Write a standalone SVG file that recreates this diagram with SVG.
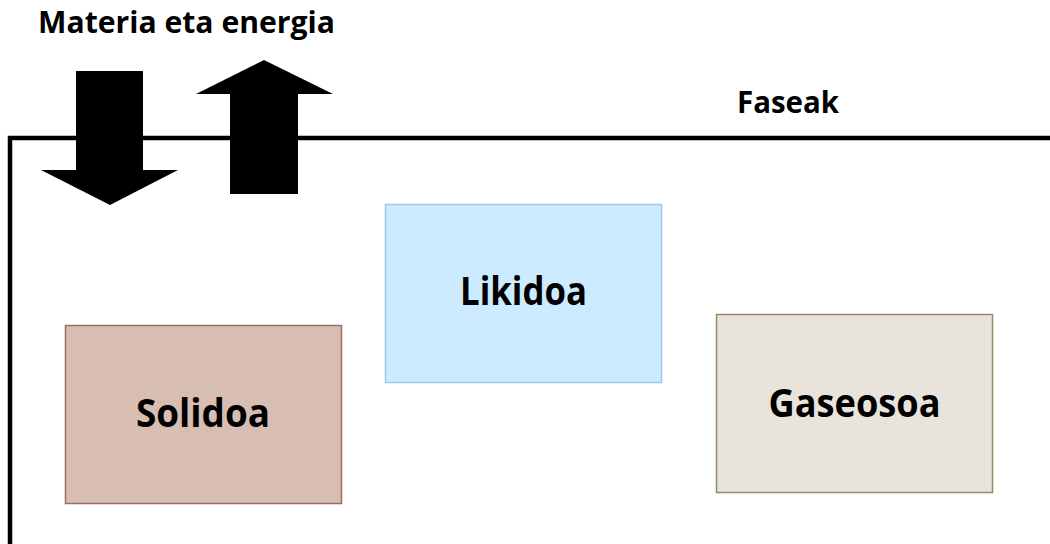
<svg xmlns="http://www.w3.org/2000/svg" width="1050" height="544" viewBox="0 0 1050 544">
  <style>
    .lbl { font-family: "Open Sans", "Liberation Sans", Arial, sans-serif; font-weight: bold; fill: #000; }
    .big { font-size: 40px; }
    .small { font-size: 30px; }
    .box { stroke-width: 1.5; }
  </style>
  <rect width="1050" height="544" fill="#ffffff"/>

  <!-- Heading -->
  <text class="lbl small" x="38" y="33" textLength="297" lengthAdjust="spacingAndGlyphs">Materia eta energia</text>

  <!-- Open system boundary -->
  <g id="boundary">
    <polyline points="10,544 10,138 1050,138" fill="none" stroke="#000" stroke-width="4.5"/>
    <text class="lbl small" x="737" y="113" textLength="102" lengthAdjust="spacingAndGlyphs">Faseak</text>
  </g>

  <!-- Exchange arrows -->
  <g id="connectors">
    <polygon id="arrow-in" points="76,71 143,71 143,170 178,170 110,205 41,170 76,170" fill="#000"/>
    <polygon id="arrow-out" points="230,194 298,194 298,94 333,94 264,60 196,94 230,94" fill="#000"/>
  </g>

  <!-- Phases -->
  <g id="likidoa">
    <rect class="box" x="385.5" y="204.5" width="276" height="178" fill="#CCEBFE" stroke="#9DC9EC"/>
    <text class="lbl big" x="523.5" y="305" text-anchor="middle" textLength="127" lengthAdjust="spacingAndGlyphs">Likidoa</text>
  </g>
  <g id="solidoa">
    <rect class="box" x="65.5" y="325.5" width="276" height="178" fill="#D8BDB3" stroke="#9E6D5E"/>
    <text class="lbl big" x="203" y="427" text-anchor="middle" textLength="134" lengthAdjust="spacingAndGlyphs">Solidoa</text>
  </g>
  <g id="gaseosoa">
    <rect class="box" x="716.5" y="314.5" width="276" height="178" fill="#E8E3DB" stroke="#938A67"/>
    <text class="lbl big" x="854.5" y="417" text-anchor="middle" textLength="172" lengthAdjust="spacingAndGlyphs">Gaseosoa</text>
  </g>
</svg>
